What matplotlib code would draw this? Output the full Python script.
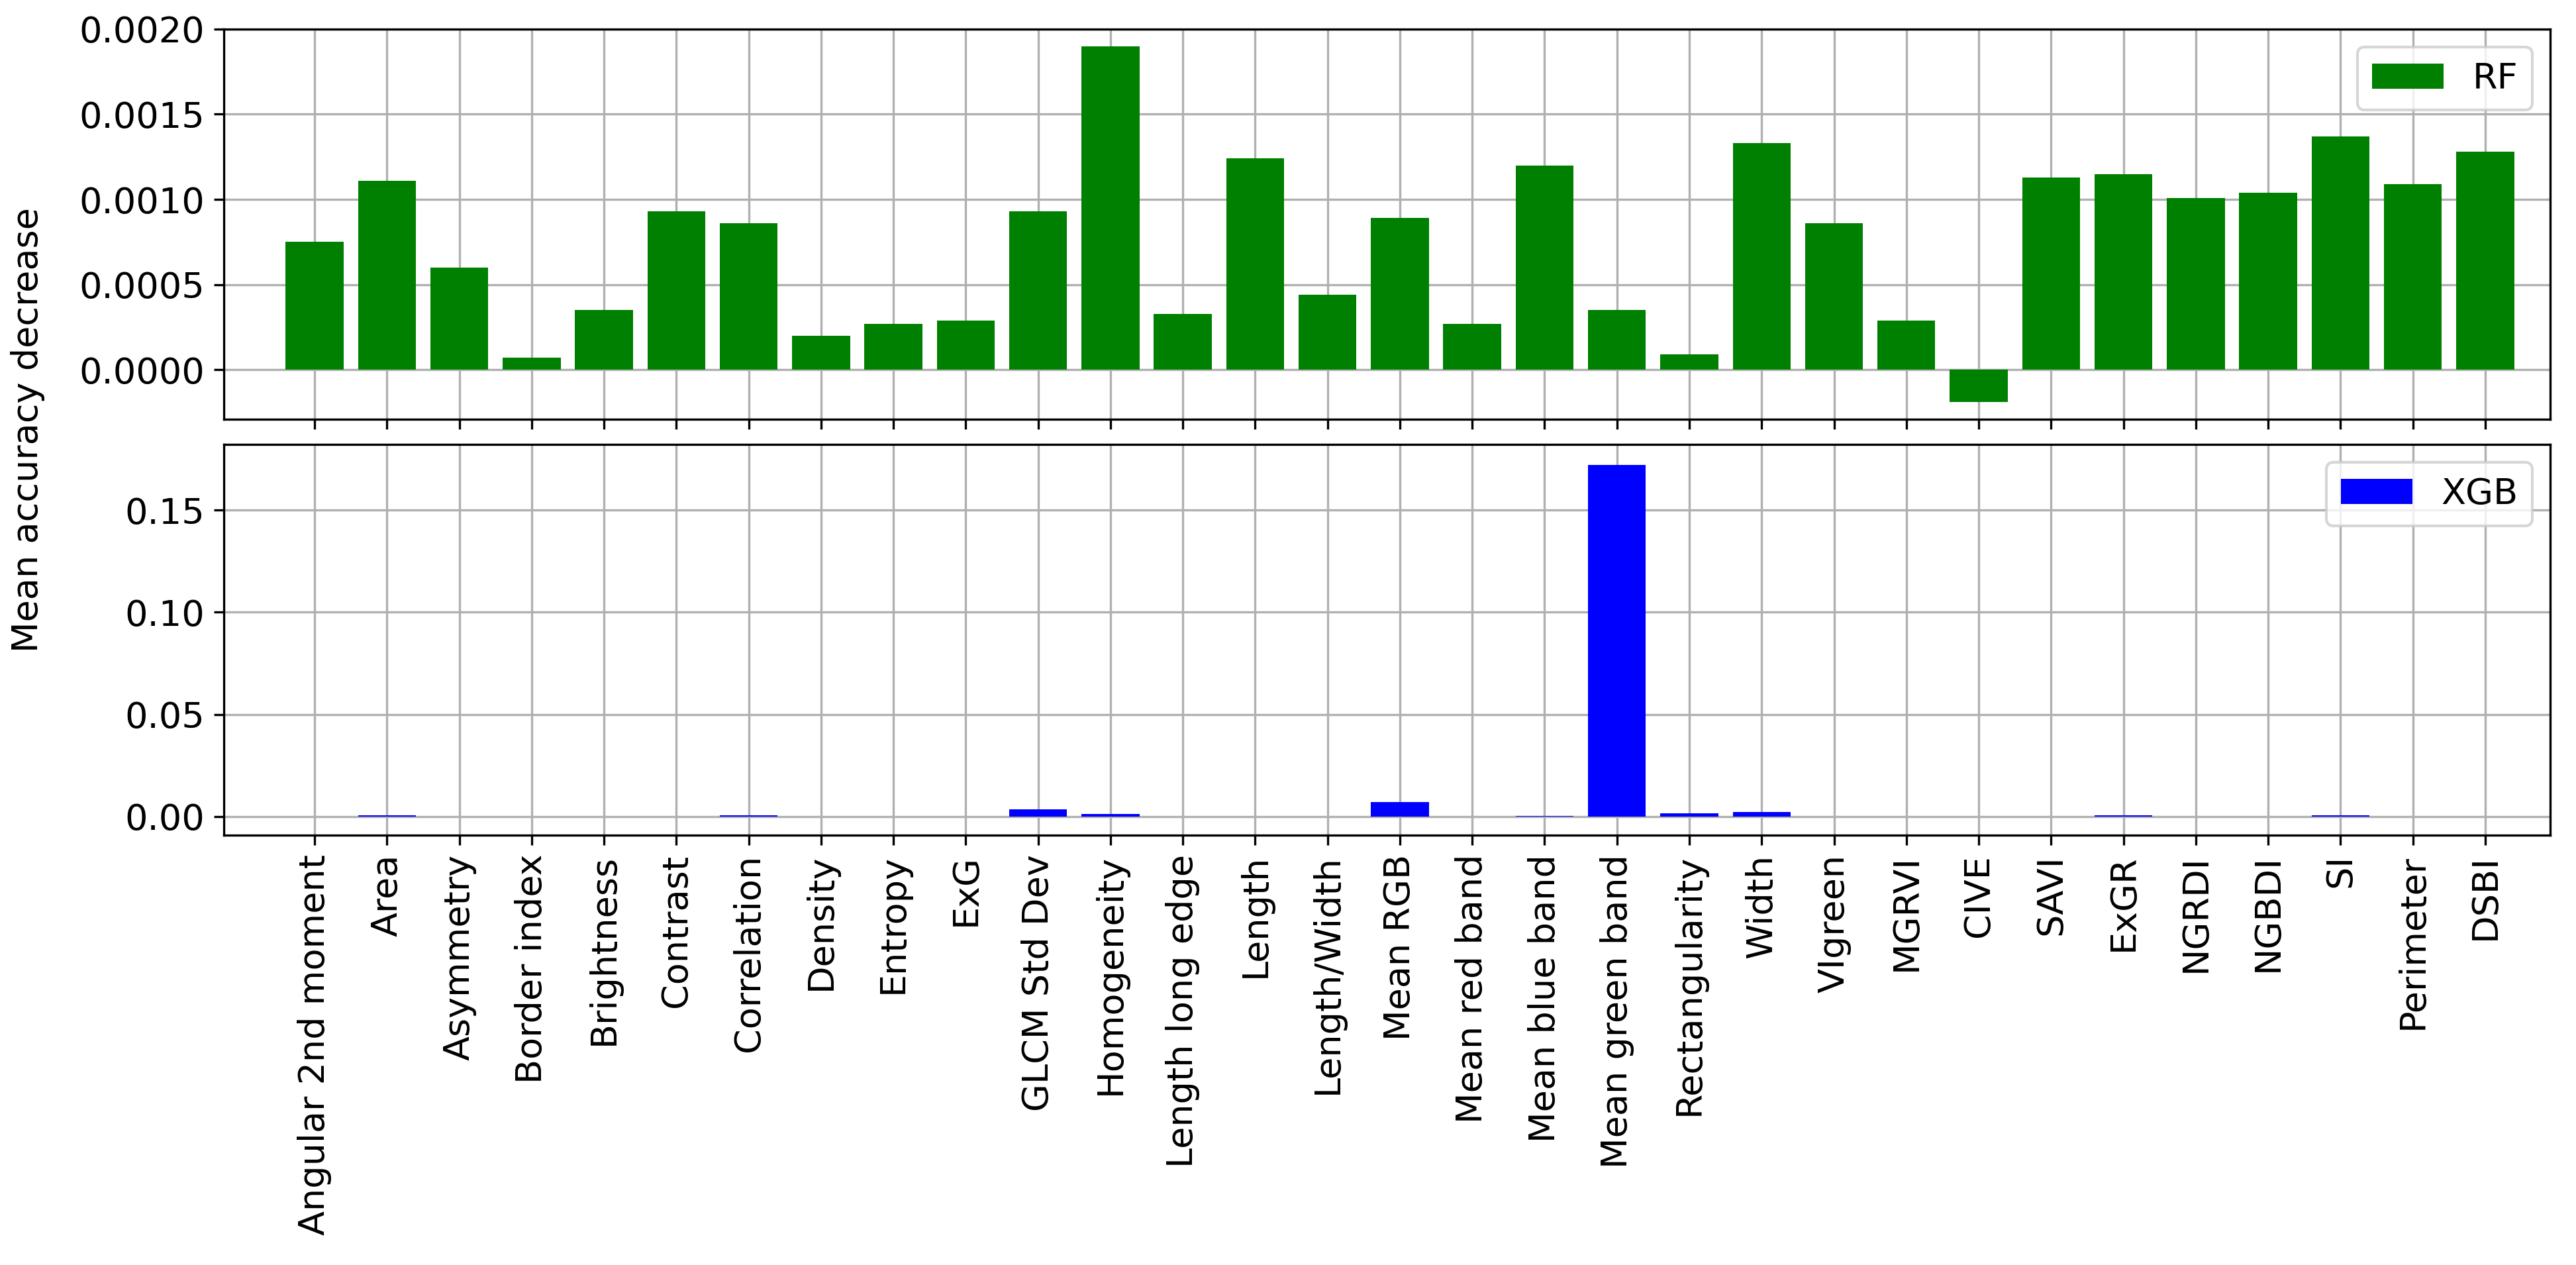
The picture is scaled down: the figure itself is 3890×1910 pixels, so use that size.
import matplotlib.pyplot as plt

features = ['Angular 2nd moment', 'Area', 'Asymmetry', 'Border index', 'Brightness', 'Contrast',
            'Correlation', 'Density', 'Entropy', 'ExG', 'GLCM Std Dev', 'Homogeneity',
            'Length long edge', 'Length', 'Length/Width', 'Mean RGB', 'Mean red band',
            'Mean blue band', 'Mean green band', 'Rectangularity', 'Width', 'VIgreen', 'MGRVI',
            'CIVE', 'SAVI', 'ExGR', 'NGRDI', 'NGBDI', 'SI', 'Perimeter', 'DSBI']
rf = [0.00075, 0.00111, 0.00060, 0.00007, 0.00035, 0.00093, 0.00086, 0.00020, 0.00027, 0.00029,
      0.00093, 0.00190, 0.00033, 0.00124, 0.00044, 0.00089, 0.00027, 0.00120, 0.00035, 0.00009,
      0.00133, 0.00086, 0.00029, -0.00019, 0.00113, 0.00115, 0.00101, 0.00104, 0.00137, 0.00109,
      0.00128]
xgb = [0.0, 0.0005, 0.0, 0.0, 0.0, 0.0, 0.0006, 0.0, 0.0, 0.0, 0.0036, 0.0012, 0.0, 0.0, 0.0,
       0.0072, 0.0, 0.0004, 0.172, 0.0014, 0.0022, 0.0, 0.0, 0.0, 0.0, 0.0005, 0.0, 0.0, 0.0005,
       0.0, 0.0]

plt.rcParams['font.size'] = 13
fig, (ax1, ax2) = plt.subplots(2, 1, figsize=(12.967, 6.367), dpi=300, sharex=True)
fig.subplots_adjust(left=0.087, right=0.99, top=0.977, bottom=0.34, hspace=0.065)

ax1.bar(features, rf, color='green', label='RF', zorder=3)
ax2.bar(features, xgb, color='blue', label='XGB', zorder=3)
for ax in (ax1, ax2):
    ax.grid(True, zorder=0)
    ax.legend(loc='upper right')
ax1.set_ylim(-0.00029, 0.0020)
ax2.set_ylim(-0.009, 0.182)
ax2.set_xlim(-1.25, 30.9)
ax2.tick_params(axis='x', rotation=90)
fig.text(0.004, 0.66, 'Mean accuracy decrease', rotation=90, ha='left', va='center')

plt.savefig('out.png')
